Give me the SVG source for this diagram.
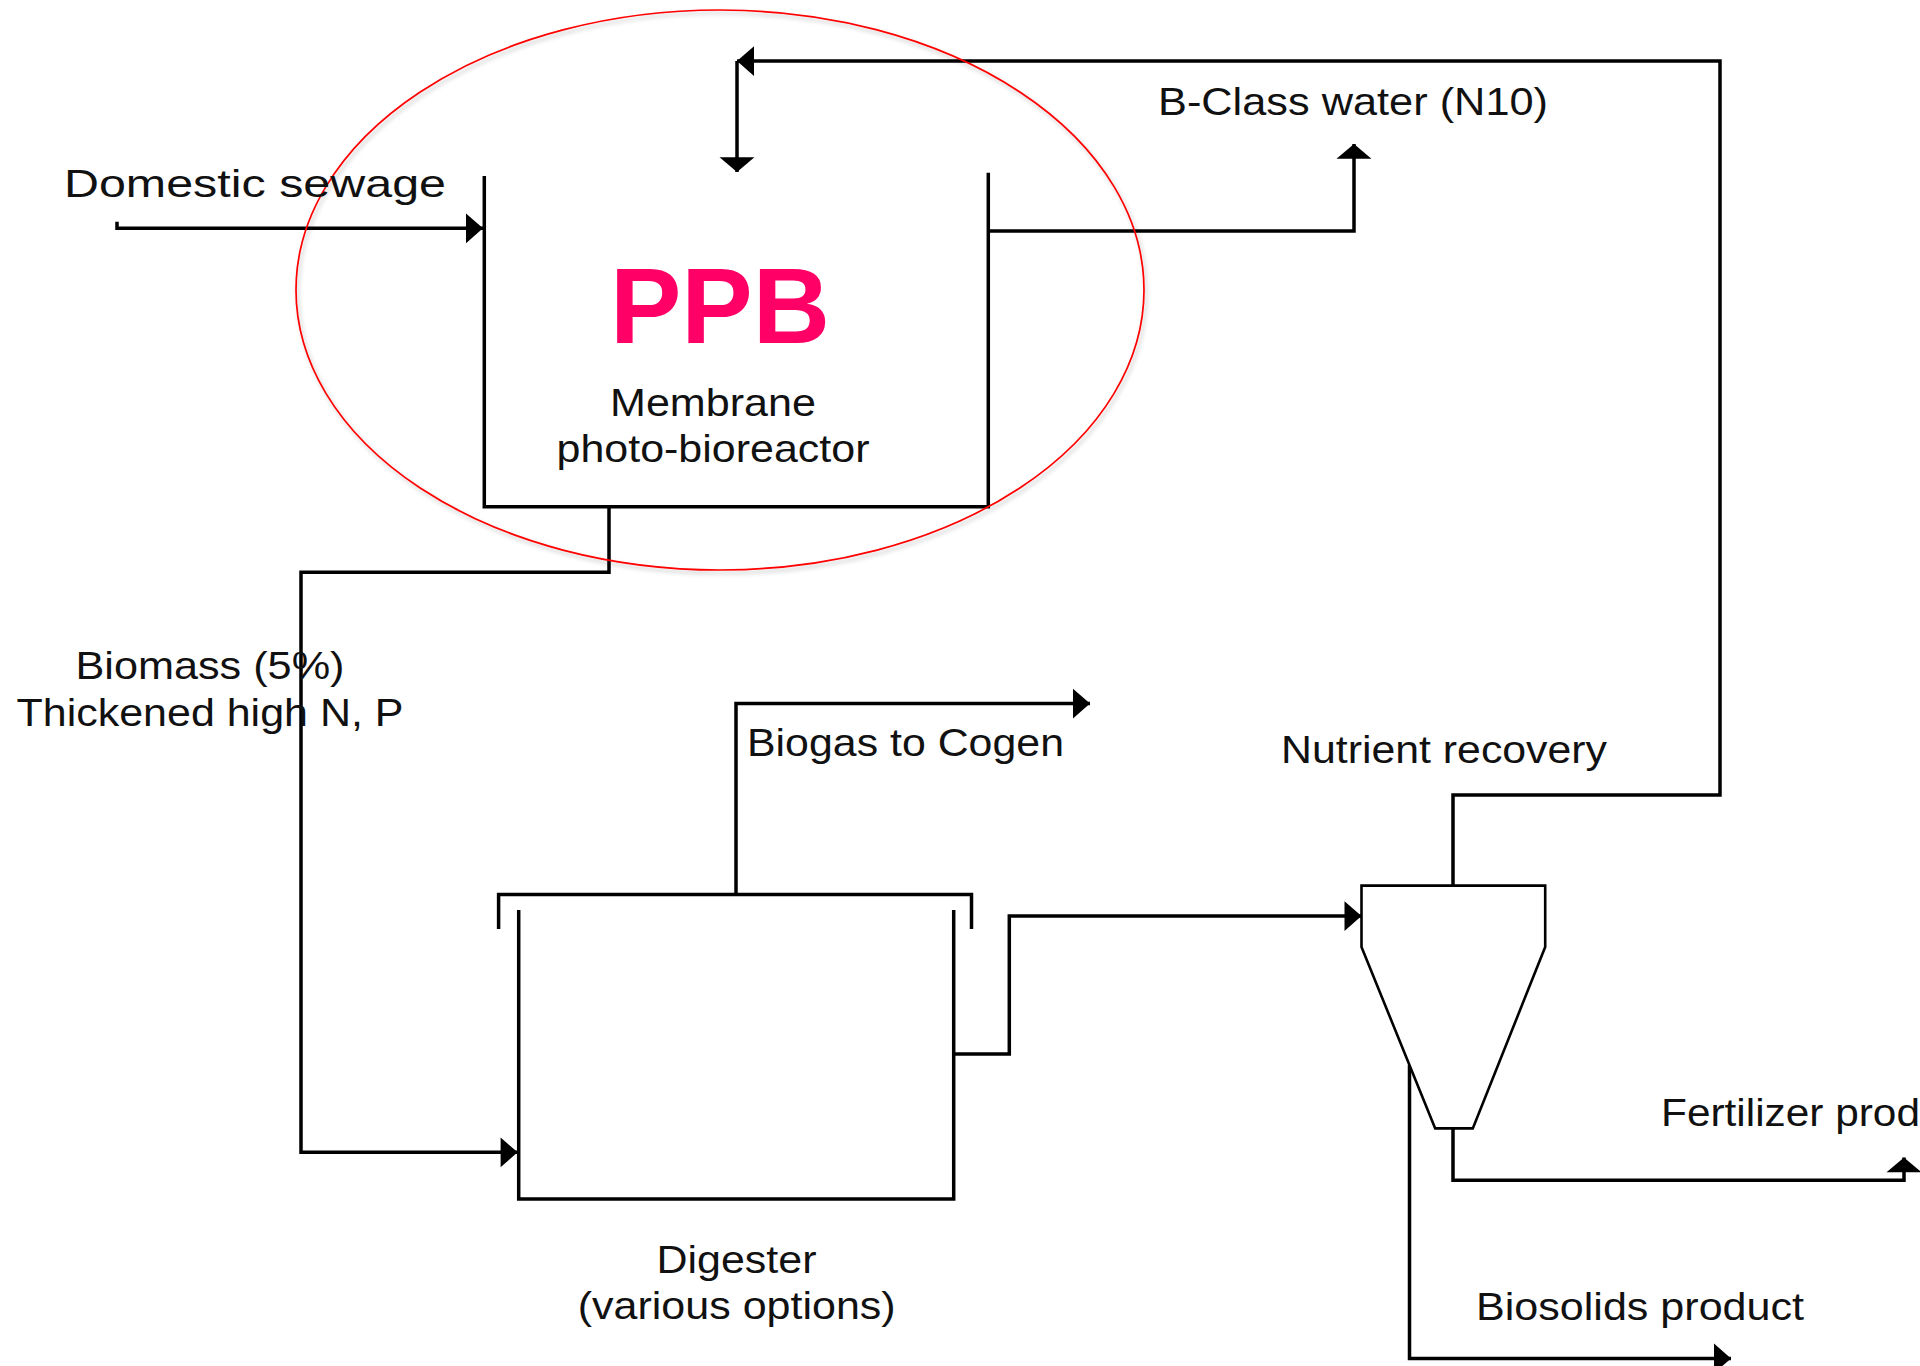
<svg xmlns="http://www.w3.org/2000/svg" width="1920" height="1366" viewBox="0 0 1920 1366">
  <style>
    .ln { fill: none; stroke: #000; stroke-width: 3.5; stroke-linejoin: miter; }
    .thin { fill: #fff; stroke: #000; stroke-width: 2.6; stroke-linejoin: miter; }
    .lbl { font-family: "Liberation Sans", Arial, sans-serif; font-size: 38.5px; fill: #111; }
    .big { font-family: "Liberation Sans", Arial, sans-serif; font-size: 107px; font-weight: bold; fill: #ff0066; }
  </style>
  <defs>
    <marker id="ah" markerUnits="userSpaceOnUse" markerWidth="20" markerHeight="34" viewBox="0 -16 16 32" refX="16" refY="0" orient="auto">
      <path d="M0,-14 L16,0 L0,14 z" fill="#000"/>
    </marker>
    <marker id="av" markerUnits="userSpaceOnUse" markerWidth="18" markerHeight="36" viewBox="0 -17 14 34" refX="14" refY="0" orient="auto">
      <path d="M0,-16.5 L14,0 L0,16.5 z" fill="#000"/>
    </marker>
    <filter id="sh" x="-10%" y="-10%" width="120%" height="120%">
      <feDropShadow dx="2" dy="3" stdDeviation="2" flood-color="#000" flood-opacity="0.25"/>
    </filter>
  </defs>
  <rect width="1920" height="1366" fill="#fff"/>

  <g id="connectors">
    <path class="ln" d="M117,221.7 V228.3 H483" marker-end="url(#ah)"/>
    <path class="ln" d="M988,231 H1354 V144" marker-end="url(#av)"/>
    <path class="ln" d="M1453,885.6 V795 H1720 V61 H737" marker-end="url(#ah)"/>
    <path class="ln" d="M737,61 V172" marker-end="url(#av)"/>
    <path class="ln" d="M609,507 V572.3 H301 V1152.3 H517.6" marker-end="url(#ah)"/>
    <path class="ln" d="M736,894.5 V703.5 H1090" marker-end="url(#ah)"/>
    <path class="ln" d="M953.7,1054 H1009.3 V916 H1361.5" marker-end="url(#ah)"/>
    <path class="ln" d="M1453,1128.4 V1180.2 H1904 V1157.4" marker-end="url(#av)"/>
    <path class="ln" d="M1409.5,1065 V1358.4 H1731" marker-end="url(#ah)"/>
  </g>

  <g id="ppb">
    <path class="ln" d="M484.3,176 V506.7 H988.3 V172.7"/>
    <text class="big" x="720" y="342.7" text-anchor="middle">PPB</text>
    <text class="lbl" x="713" y="416" text-anchor="middle" textLength="206" lengthAdjust="spacingAndGlyphs">Membrane</text>
    <text class="lbl" x="713" y="462" text-anchor="middle" textLength="313" lengthAdjust="spacingAndGlyphs">photo-bioreactor</text>
  </g>

  <g id="highlight">
    <ellipse cx="720" cy="290" rx="424" ry="280" fill="none" stroke="#ff0000" stroke-width="1.7" filter="url(#sh)"/>
  </g>

  <g id="digester">
    <path class="ln" d="M518.7,910 V1199 H953.7 V910"/>
    <path class="ln" d="M498.6,929 V894.5 H971.5 V929"/>
    <text class="lbl" x="736.5" y="1273" text-anchor="middle" textLength="160" lengthAdjust="spacingAndGlyphs">Digester</text>
    <text class="lbl" x="736.7" y="1319" text-anchor="middle" textLength="318" lengthAdjust="spacingAndGlyphs">(various options)</text>
  </g>

  <g id="nutrient-recovery">
    <path class="thin" d="M1361.5,885.6 H1545.2 V947 L1472.8,1128.4 H1435.2 L1361.5,947 Z"/>
    <text class="lbl" x="1281" y="763" textLength="326" lengthAdjust="spacingAndGlyphs">Nutrient recovery</text>
  </g>

  <g id="labels">
    <text class="lbl" x="64" y="196.5" textLength="382" lengthAdjust="spacingAndGlyphs">Domestic sewage</text>
    <text class="lbl" x="1158" y="114.5" textLength="390" lengthAdjust="spacingAndGlyphs">B-Class water (N10)</text>
    <text class="lbl" x="210" y="679" text-anchor="middle" textLength="269" lengthAdjust="spacingAndGlyphs">Biomass (5%)</text>
    <text class="lbl" x="210" y="726" text-anchor="middle" textLength="387" lengthAdjust="spacingAndGlyphs">Thickened high N, P</text>
    <text class="lbl" x="747" y="756" textLength="317" lengthAdjust="spacingAndGlyphs">Biogas to Cogen</text>
    <text class="lbl" x="1661" y="1126" textLength="259" lengthAdjust="spacingAndGlyphs">Fertilizer prod</text>
    <text class="lbl" x="1476" y="1320" textLength="328" lengthAdjust="spacingAndGlyphs">Biosolids product</text>
  </g>
</svg>
